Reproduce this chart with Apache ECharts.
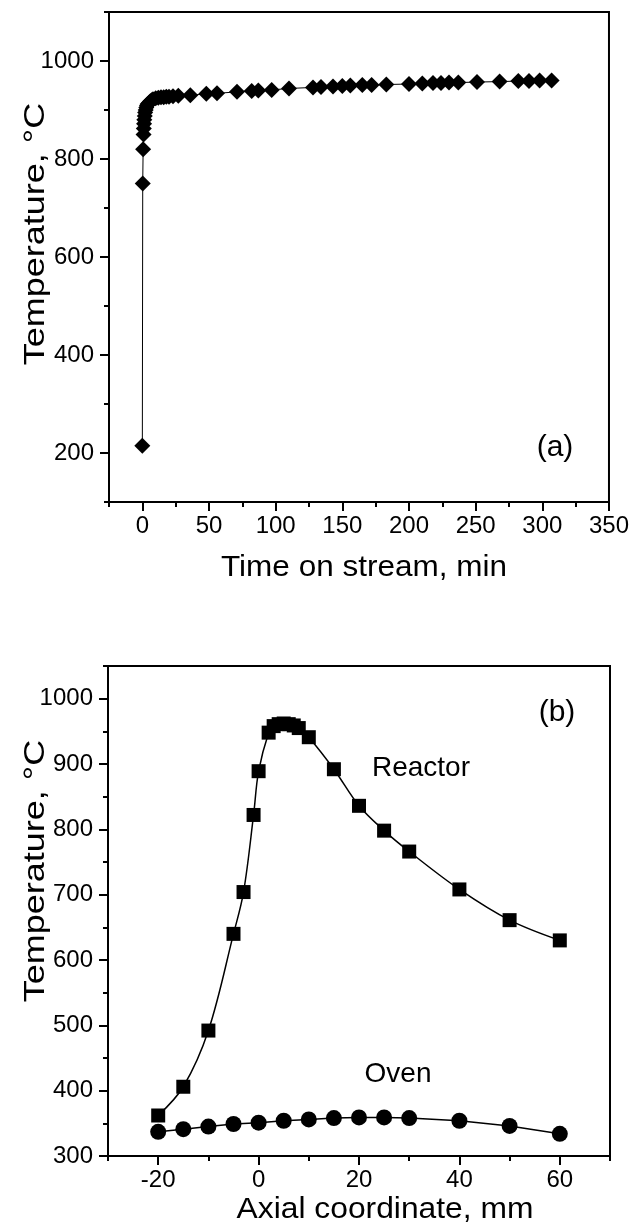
<!DOCTYPE html>
<html>
<head>
<meta charset="utf-8">
<script src="https://cdn.jsdelivr.net/npm/echarts@6/dist/echarts.min.js"></script>
<style>
  html, body { margin: 0; padding: 0; background: #fff; }
  #chart { width: 632px; height: 1229px; }
</style>
</head>
<body>
<div id="chart"></div>
<script>
// (a) temperature vs time on stream
const timeMin = [0, 0.3, 0.6, 0.9, 1.1, 1.3, 1.5, 1.8, 2.1, 2.5, 3, 3.5, 4, 5, 6, 7, 8, 10, 12, 14, 16, 18, 20, 23, 27,
    36, 48, 56, 71, 82, 87, 97, 110, 128, 134, 143, 150, 156, 165, 172, 183, 200, 210, 218, 224, 230, 237, 251, 268, 282, 290, 298, 307];
const tempA = [215, 750, 820, 850, 862, 872, 880, 888, 895, 900, 905, 909, 912, 915, 918, 920, 922, 924, 925, 926, 926, 927, 927, 928, 929,
    930, 933, 934, 937, 939, 940, 941, 944, 946, 947, 948, 949, 950, 951, 951, 952, 953, 954, 955, 955, 956, 956, 957, 958, 959, 959, 960, 960];

// (b) axial profiles
const axialReactor = [-20, -15, -10, -5, -3, -1, 0, 2, 3, 4, 5, 6, 7, 8, 10, 15, 20, 25, 30, 40, 50, 60];
const reactorT = [362, 406, 492, 640, 704, 822, 889, 948, 958, 961, 962, 961, 959, 955, 941, 892, 836, 798, 766, 708, 661, 630];
const axialOven = [-20, -15, -10, -5, 0, 5, 10, 15, 20, 25, 30, 40, 50, 60];
const ovenT = [337, 341, 345, 349, 351, 354, 356, 358, 359, 359, 358, 354, 346, 334];

// tick positions
const aXMajor = [0, 50, 100, 150, 200, 250, 300, 350];
const aXMinor = [-25, 25, 75, 125, 175, 225, 275, 325];
const aYMajor = [200, 400, 600, 800, 1000];
const aYMinor = [100, 300, 500, 700, 900, 1100];
const bXMajor = [-20, 0, 20, 40, 60];
const bXMinor = [-30, -10, 10, 30, 50, 70];
const bYMajor = [300, 400, 500, 600, 700, 800, 900, 1000];
const bYMinor = [350, 450, 550, 650, 750, 850, 950, 1050];

const FONT = 'Liberation Sans, Arial, Helvetica, sans-serif';

function pairs(xs, ys) {
    return xs.map(function(x, i) { return [x, ys[i]]; });
}

function mainAxis(type, grid, min, max, major, position) {
    return {
        type: 'value', gridIndex: grid, min: min, max: max, position: position,
        axisLine: { show: true, onZero: false, lineStyle: { color: '#000', width: 2 } },
        axisTick: { show: true, inside: false, length: 9, customValues: major, lineStyle: { color: '#000', width: 2 } },
        axisLabel: {
            show: true, customValues: major, color: '#000', fontSize: 24, fontFamily: FONT,
            margin: type === 'x' ? 12 : 15,
            formatter: function(v) { return String(v); }
        },
        splitLine: { show: false }
    };
}

function minorAxis(grid, min, max, minor, position) {
    return {
        type: 'value', gridIndex: grid, min: min, max: max, position: position,
        axisLine: { show: false, onZero: false },
        axisTick: { show: true, inside: false, length: 5, customValues: minor, lineStyle: { color: '#000', width: 2 } },
        axisLabel: { show: false },
        splitLine: { show: false }
    };
}

function titleText(txt, x, y, rotated, size, stretch) {
    return {
        type: 'text', x: x, y: y, rotation: rotated ? Math.PI / 2 : 0,
        scaleX: stretch || 1,
        style: {
            text: txt, fill: '#000', fontSize: size, fontFamily: FONT,
            textAlign: 'center', textVerticalAlign: 'middle', align: 'center', verticalAlign: 'middle'
        }
    };
}

const chart = echarts.init(document.getElementById('chart'));

const option = {
    backgroundColor: '#fff',
    animation: false,
    grid: [
        { left: 109, top: 12, width: 501, height: 490, show: true, borderColor: '#000', borderWidth: 2, backgroundColor: 'transparent' },
        { left: 108, top: 666, width: 502, height: 490, show: true, borderColor: '#000', borderWidth: 2, backgroundColor: 'transparent' }
    ],
    xAxis: [
        mainAxis('x', 0, -25, 350, aXMajor, 'bottom'),
        minorAxis(0, -25, 350, aXMinor, 'bottom'),
        mainAxis('x', 1, -30, 70, bXMajor, 'bottom'),
        minorAxis(1, -30, 70, bXMinor, 'bottom')
    ],
    yAxis: [
        mainAxis('y', 0, 100, 1100, aYMajor, 'left'),
        minorAxis(0, 100, 1100, aYMinor, 'left'),
        mainAxis('y', 1, 300, 1050, bYMajor, 'left'),
        minorAxis(1, 300, 1050, bYMinor, 'left')
    ],
    graphic: [
        titleText('Time on stream, min', 364, 568, false, 30, 1.05),
        titleText('Temperature, \u00b0C', 36, 234, true, 30, 1.2),
        titleText('(a)', 555, 448, false, 30),
        titleText('Axial coordinate, mm', 385, 1210, false, 30, 1.06),
        titleText('Temperature, \u00b0C', 36, 871, true, 30, 1.2),
        titleText('(b)', 557, 713, false, 30),
        titleText('Reactor', 421, 768, false, 28),
        titleText('Oven', 398, 1074, false, 28)
    ],
    series: [
        {
            name: 'time', type: 'line', xAxisIndex: 0, yAxisIndex: 0,
            data: pairs(timeMin, tempA),
            symbol: 'diamond', symbolSize: 16, showSymbol: true,
            itemStyle: { color: '#000' },
            lineStyle: { color: '#000', width: 1 }
        },
        {
            name: 'Reactor', type: 'line', xAxisIndex: 2, yAxisIndex: 2,
            data: pairs(axialReactor, reactorT),
            smooth: 0.35,
            symbol: 'rect', symbolSize: 14, showSymbol: true,
            itemStyle: { color: '#000' },
            lineStyle: { color: '#000', width: 1.5 }
        },
        {
            name: 'Oven', type: 'line', xAxisIndex: 2, yAxisIndex: 2,
            data: pairs(axialOven, ovenT),
            symbol: 'circle', symbolSize: 16, showSymbol: true,
            itemStyle: { color: '#000' },
            lineStyle: { color: '#000', width: 1.5 }
        }
    ]
};

chart.setOption(option);
</script>
</body>
</html>
